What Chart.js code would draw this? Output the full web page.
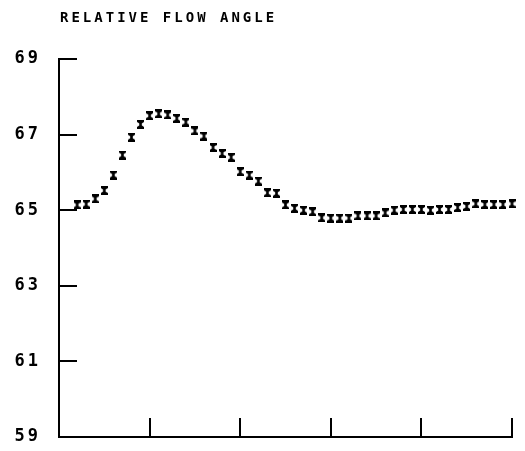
<!DOCTYPE html>
<html lang="en">
<head>
    <meta charset="UTF-8">
    <title>Relative Flow Angle</title>
    <script src="https://cdn.jsdelivr.net/npm/chart.js"></script>
    <style>
        body {
            margin: 0;
            background: #fff;
        }

        #wrap {
            position: relative;
            width: 525px;
            height: 451px;
        }

        #title {
            position: absolute;
            left: 60px;
            top: 9px;
            font-family: "DejaVu Sans Mono", monospace;
            font-weight: bold;
            font-size: 14px;
            letter-spacing: 3px;
            color: #000;
        }
    </style>
</head>
<body>

    <div id="wrap">
        <div id="title">RELATIVE FLOW ANGLE</div>
        <canvas id="chart" width="525" height="451"></canvas>
    </div>

    <script>
        // positions along the span
        const positions = [0.2, 0.3, 0.4, 0.5, 0.6, 0.7, 0.8, 0.9, 1.0,
            1.1, 1.2, 1.3, 1.4, 1.5, 1.6, 1.7, 1.8, 1.9, 2.0,
            2.1, 2.2, 2.3, 2.4, 2.5, 2.6, 2.7, 2.8, 2.9, 3.0,
            3.1, 3.2, 3.3, 3.4, 3.5, 3.6, 3.7, 3.8, 3.9, 4.0,
            4.1, 4.2, 4.3, 4.4, 4.5, 4.6, 4.7, 4.8, 4.9, 5.0];

        const flowAngle = [65.14, 65.16, 65.30, 65.52, 65.93, 66.46, 66.93, 67.27, 67.50,
            67.55, 67.52, 67.43, 67.33, 67.10, 66.96, 66.66, 66.50, 66.40, 66.02,
            65.93, 65.77, 65.46, 65.45, 65.14, 65.05, 65.00, 64.96, 64.80, 64.79,
            64.79, 64.79, 64.85, 64.85, 64.85, 64.93, 65.00, 65.02, 65.02, 65.02,
            65.00, 65.02, 65.02, 65.07, 65.10, 65.17, 65.15, 65.15, 65.15, 65.17];

        const yTicks = [59, 61, 63, 65, 67, 69];
        const xTicks = [1, 2, 3, 4, 5];

        // little hourglass / error-bar marker like the plotter symbol
        function makeMarker() {
            const c = document.createElement('canvas');
            c.width = 7;
            c.height = 9;
            const g = c.getContext('2d');
            g.fillStyle = '#000';
            g.beginPath();
            g.moveTo(0, 0);
            g.lineTo(7, 0);
            g.lineTo(7, 2);
            g.lineTo(4.8, 3.5);
            g.lineTo(4.8, 5.5);
            g.lineTo(7, 7);
            g.lineTo(7, 9);
            g.lineTo(0, 9);
            g.lineTo(0, 7);
            g.lineTo(2.2, 5.5);
            g.lineTo(2.2, 3.5);
            g.lineTo(0, 2);
            g.closePath();
            g.fill();
            return c;
        }

        const innerTicks = {
            id: 'innerTicks',
            beforeDraw(chart) {
                chart.ctx.letterSpacing = '3px';
            },
            afterDraw(chart) {
                const ctx = chart.ctx;
                const x = chart.scales.x, y = chart.scales.y;
                ctx.save();
                ctx.letterSpacing = '0px';
                ctx.strokeStyle = '#000';
                ctx.lineWidth = 2;
                ctx.beginPath();
                yTicks.slice(1).forEach(v => {
                    const py = Math.round(y.getPixelForValue(v));
                    ctx.moveTo(x.left, py);
                    ctx.lineTo(x.left + 18, py);
                });
                xTicks.forEach(v => {
                    const px = Math.round(x.getPixelForValue(v));
                    ctx.moveTo(px, y.bottom);
                    ctx.lineTo(px, y.bottom - 19);
                });
                ctx.stroke();
                ctx.restore();
            }
        };

        function noPad(s) {
            s.paddingTop = 0;
            s.paddingBottom = 0;
            s.paddingLeft = 0;
            s.paddingRight = 0;
        }

        new Chart(document.getElementById('chart'), {
            type: 'scatter',
            data: {
                datasets: [{
                    label: 'Relative flow angle',
                    data: positions.map((p, i) => ({ x: p, y: flowAngle[i] })),
                    pointStyle: makeMarker(),
                    pointRadius: 4,
                    clip: false
                }]
            },
            options: {
                responsive: false,
                animation: false,
                layout: {
                    padding: { top: 59, right: 13, bottom: 14, left: 0 }
                },
                plugins: {
                    legend: { display: false },
                    tooltip: { enabled: false }
                },
                scales: {
                    x: {
                        type: 'linear',
                        min: 0,
                        max: 5,
                        grid: { display: false },
                        border: { display: true, color: '#000', width: 2 },
                        ticks: { display: false },
                        afterFit: s => { s.height = 0; noPad(s); }
                    },
                    y: {
                        min: 59,
                        max: 69,
                        afterBuildTicks: s => { s.ticks = yTicks.map(v => ({ value: v })); },
                        grid: { display: false, drawTicks: false },
                        border: { display: true, color: '#000', width: 2 },
                        ticks: {
                            padding: 18,
                            color: '#000',
                            font: { family: 'DejaVu Sans Mono', weight: 'bold', size: 17 }
                        },
                        afterFit: s => { s.width = 59; noPad(s); }
                    }
                }
            },
            plugins: [innerTicks]
        });
    </script>

</body>
</html>
